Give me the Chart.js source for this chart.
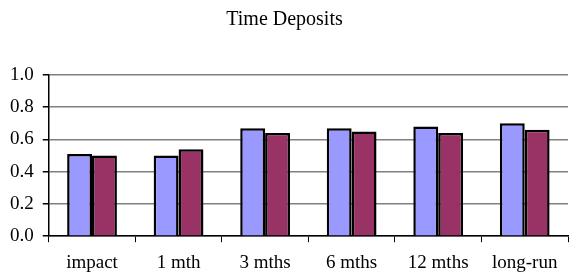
<!DOCTYPE html>
<html>
<head>
    <title>Time Deposits</title>
    <style>
        body { margin: 0; background: #fff; }
        #wrap { width: 570px; height: 279px; }
    </style>
</head>
<body>
    <div id="wrap"><canvas id="myChart"></canvas></div>
    <script src="https://cdn.jsdelivr.net/npm/chart.js@4/dist/chart.umd.min.js"></script>
    <script>
    var labels = ["impact", "1 mth", "3 mths", "6 mths", "12 mths", "long-run"];
    var seriesA = [0.51, 0.50, 0.67, 0.67, 0.68, 0.70];
    var seriesB = [0.50, 0.54, 0.64, 0.65, 0.64, 0.66];
    var yTicks = [0, 0.2, 0.4, 0.6, 0.8, 1.0];

    var serif = "'Liberation Serif', 'Times New Roman', serif";
    var ctx = document.getElementById('myChart').getContext('2d');
    var chart = new Chart(ctx, {
        type: 'bar',
        data: {
            labels: labels,
            datasets: [{
                label: "A",
                data: seriesA,
                backgroundColor: '#9999FF',
                borderColor: '#000',
                borderWidth: 2.5,
                borderSkipped: 'bottom'
            }, {
                label: "B",
                data: seriesB,
                backgroundColor: '#993366',
                borderColor: '#000',
                borderWidth: 2.5,
                borderSkipped: 'bottom'
            }]
        },
        options: {
            responsive: true,
            maintainAspectRatio: false,
            animation: false,
            layout: { padding: { left: 1, right: 2, top: 8, bottom: -4 } },
            datasets: { bar: { barPercentage: 1.0, categoryPercentage: 0.575 } },
            plugins: {
                legend: { display: false },
                tooltip: { enabled: false },
                title: {
                    display: true,
                    text: 'Time Deposits',
                    color: '#000',
                    font: { family: serif, size: 20, weight: 'normal' },
                    padding: { top: 0, bottom: 43 }
                }
            },
            scales: {
                x: {
                    grid: {
                        display: true,
                        drawOnChartArea: false,
                        drawTicks: true,
                        tickLength: 6,
                        tickColor: '#000',
                        offset: true
                    },
                    border: { color: '#000', width: 1.5 },
                    ticks: {
                        color: '#000',
                        padding: 9,
                        maxRotation: 0,
                        font: { family: serif, size: 19 }
                    }
                },
                y: {
                    min: 0,
                    max: 1,
                    afterBuildTicks: function (axis) {
                        axis.ticks = yTicks.map(function (v) { return { value: v }; });
                    },
                    grid: {
                        color: '#808080',
                        lineWidth: 1.5,
                        tickLength: 6,
                        tickColor: '#000'
                    },
                    border: { color: '#000', width: 1.5 },
                    ticks: {
                        color: '#000',
                        padding: 9,
                        font: { family: serif, size: 19 },
                        callback: function (v) { return Number(v).toFixed(1); }
                    }
                }
            }
        }
    });
    </script>
</body>
</html>
